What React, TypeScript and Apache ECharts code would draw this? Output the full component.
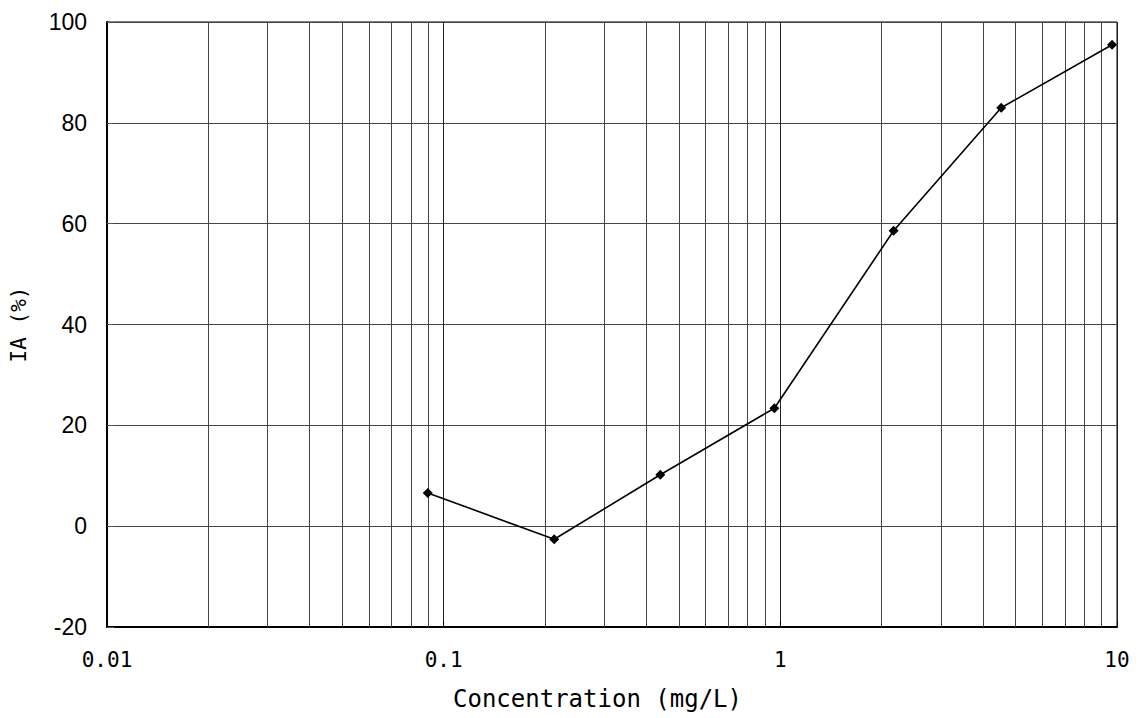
import React, { useEffect, useRef } from "react";
import * as echarts from "echarts";

const concentrations = [0.0897, 0.213, 0.44, 0.96, 2.17, 4.53, 9.67];
const iaValues = [6.6, -2.6, 10.2, 23.4, 58.6, 83.0, 95.5];
const xTickLabels = ["0.01", "0.1", "1", "10"];
const yMin = -20;
const yMax = 100;
const yStep = 20;
const minorMultipliers = [2, 3, 4, 5, 6, 7, 8, 9];
const decades = [0.01, 0.1, 1];

export default function App() {
  const ref = useRef<HTMLDivElement>(null);
  useEffect(() => {
    if (!ref.current) return;
    const chart = echarts.init(ref.current, undefined, { renderer: "svg" });
    const minorLines: number[] = [];
    decades.forEach((d) => minorMultipliers.forEach((m) => minorLines.push(+(d * m).toPrecision(3))));
    const data = concentrations.map((c, i) => [c, iaValues[i]]);
    chart.setOption({
      animation: false,
      backgroundColor: "#fff",
      grid: {
        left: 106,
        right: 28,
        top: 22,
        bottom: 91,
        show: true,
        borderColor: "#000",
        borderWidth: 1,
      },
      xAxis: {
        type: "log",
        logBase: 10,
        min: 0.01,
        max: 10,
        name: "Concentration (mg/L)",
        nameLocation: "middle",
        nameGap: 60,
        nameTextStyle: {
          fontFamily: "DejaVu Sans Mono",
          fontSize: 24,
          color: "#000",
          padding: [0, 29, 0, 0],
        },
        axisLine: { show: true, onZero: false, lineStyle: { color: "#000", width: 2 } },
        axisTick: { show: true, inside: true, length: 6, lineStyle: { color: "#000" } },
        axisLabel: {
          fontFamily: "DejaVu Sans Mono",
          fontSize: 21,
          color: "#000",
          margin: 22,
          formatter: (v: number) => {
            const idx = Math.round(Math.log10(v) + 2);
            return xTickLabels[idx] ?? String(v);
          },
        },
        splitLine: { show: true, lineStyle: { color: "#222", width: 1 } },
      },
      yAxis: {
        type: "value",
        min: yMin,
        max: yMax,
        interval: yStep,
        name: "IA (%)",
        nameLocation: "middle",
        nameGap: 78,
        nameRotate: 90,
        nameTextStyle: {
          fontFamily: "DejaVu Sans Mono",
          fontSize: 21,
          color: "#000",
        },
        axisLine: { show: true, onZero: false, lineStyle: { color: "#000", width: 2 } },
        axisTick: { show: true, inside: true, length: 7, lineStyle: { color: "#555" } },
        axisLabel: {
          fontFamily: "Liberation Sans",
          fontSize: 23,
          color: "#000",
          margin: 20,
        },
        splitLine: { show: true, lineStyle: { color: "#444", width: 1 } },
      },
      series: [
        {
          type: "line",
          data,
          symbol: "diamond",
          symbolSize: 10,
          lineStyle: { color: "#000", width: 1.6 },
          itemStyle: { color: "#000" },
          z: 5,
          markLine: {
            silent: true,
            symbol: "none",
            label: { show: false },
            lineStyle: { color: "#444", width: 1, type: "solid" },
            data: minorLines.map((v) => ({ xAxis: v })),
            z: 1,
          },
        },
      ],
    });
    return () => chart.dispose();
  }, []);
  return (
    <div
      ref={ref}
      style={{ position: "fixed", left: 0, top: 0, width: 1145, height: 718 }}
    />
  );
}
